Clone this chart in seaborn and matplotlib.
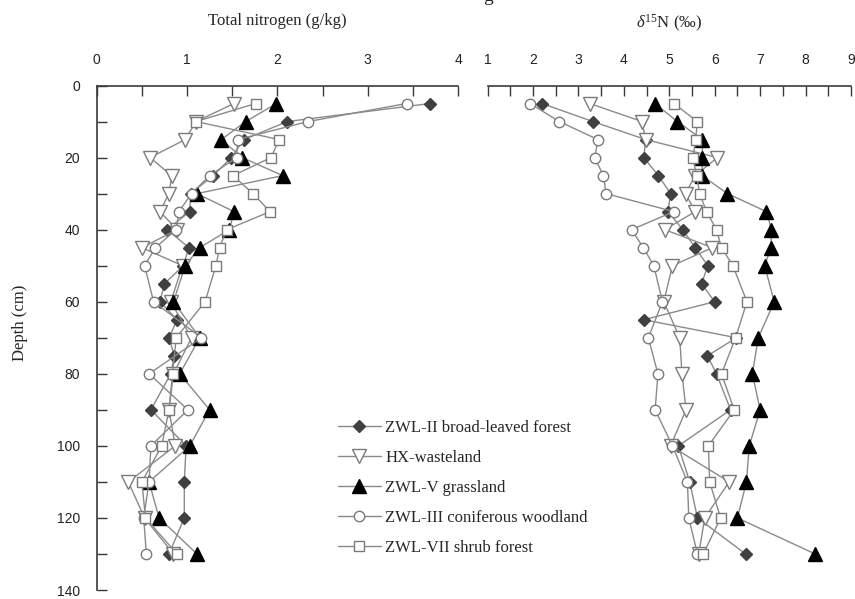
import matplotlib
matplotlib.use("Agg")
import matplotlib.pyplot as plt
from matplotlib.ticker import MultipleLocator
import seaborn as sns

# Sampling depths (cm); ZWL-II was sampled at every 5 cm down to 80 cm
depth_zwl2 = [5, 10, 15, 20, 25, 30, 35, 40, 45, 50, 55, 60, 65, 70, 75, 80, 90, 100, 110, 120, 130]
depth_other = [5, 10, 15, 20, 25, 30, 35, 40, 45, 50, 60, 70, 80, 90, 100, 110, 120, 130]

series_names = [
    "ZWL-II broad-leaved forest",
    "HX-wasteland",
    "ZWL-V grassland",
    "ZWL-III coniferous woodland",
    "ZWL-VII shrub forest",
]

# Total nitrogen (g/kg)
tn_zwl2 = [3.69, 2.11, 1.63, 1.49, 1.29, 1.04, 1.03, 0.78, 1.02, 0.96, 0.75, 0.70, 0.89, 0.80, 0.86, 0.82, 0.60, 0.99, 0.97, 0.97, 0.80]
tn_hx = [1.52, 1.10, 0.98, 0.59, 0.83, 0.80, 0.70, 0.89, 0.50, 0.95, 0.82, 1.05, 0.85, 0.80, 0.87, 0.35, 0.53, 0.85]
tn_zwl5 = [1.99, 1.65, 1.38, 1.61, 2.06, 1.11, 1.52, 1.47, 1.14, 0.98, 0.85, 1.14, 0.92, 1.25, 1.03, 0.58, 0.69, 1.11]
tn_zwl3 = [3.43, 2.34, 1.56, 1.55, 1.25, 1.05, 0.91, 0.88, 0.65, 0.53, 0.63, 1.16, 0.58, 1.01, 0.60, 0.58, 0.52, 0.55]
tn_zwl7 = [1.76, 1.10, 2.02, 1.93, 1.51, 1.73, 1.92, 1.44, 1.36, 1.32, 1.20, 0.88, 0.84, 0.80, 0.72, 0.50, 0.54, 0.89]

# delta 15N (per mil)
d15n_zwl2 = [2.20, 3.32, 4.48, 4.44, 4.76, 5.03, 4.97, 5.30, 5.57, 5.85, 5.71, 6.00, 4.44, 6.48, 5.84, 6.04, 6.35, 5.20, 5.45, 5.62, 6.68]
d15n_hx = [3.25, 4.40, 4.48, 6.06, 5.57, 5.36, 5.57, 4.90, 5.95, 5.07, 4.88, 5.23, 5.28, 5.37, 5.03, 6.32, 5.78, 5.65]
d15n_zwl5 = [4.68, 5.18, 5.73, 5.73, 5.72, 6.28, 7.14, 7.25, 7.24, 7.10, 7.31, 6.96, 6.83, 7.00, 6.76, 6.70, 6.50, 8.21]
d15n_zwl3 = [1.94, 2.58, 3.43, 3.36, 3.55, 3.61, 5.10, 4.17, 4.43, 4.66, 4.85, 4.54, 4.75, 4.69, 5.07, 5.40, 5.43, 5.62]
d15n_zwl7 = [5.10, 5.62, 5.58, 5.52, 5.60, 5.67, 5.82, 6.04, 6.15, 6.40, 6.71, 6.46, 6.15, 6.43, 5.86, 5.89, 6.13, 5.75]

tn_values = [tn_zwl2, tn_hx, tn_zwl5, tn_zwl3, tn_zwl7]
d15n_values = [d15n_zwl2, d15n_hx, d15n_zwl5, d15n_zwl3, d15n_zwl7]
depths = [depth_zwl2, depth_other, depth_other, depth_other, depth_other]

LINE = "#8a8a8a"
EDGE = "#7a7a7a"
styles = [
    dict(marker="D", markersize=6.5, markerfacecolor="#404040", markeredgecolor="#404040"),
    dict(marker="v", markersize=9.5, markerfacecolor="white", markeredgecolor=EDGE),
    dict(marker="^", markersize=9.5, markerfacecolor="black", markeredgecolor="black"),
    dict(marker="o", markersize=7.5, markerfacecolor="white", markeredgecolor=EDGE),
    dict(marker="s", markersize=7.0, markerfacecolor="white", markeredgecolor=EDGE),
]

sns.set_style("ticks")
plt.rcParams["font.family"] = ["Liberation Sans", "DejaVu Sans"]
plt.rcParams["mathtext.fontset"] = "custom"
plt.rcParams["mathtext.rm"] = "Liberation Serif"
plt.rcParams["mathtext.it"] = "Liberation Serif:italic"

SERIF = ["Liberation Serif", "DejaVu Serif"]
AX_COLOR = "#3a3a3a"

fig = plt.figure(figsize=(8.55, 5.99), dpi=100)
TOP_PX, BOT_PX = 85.5, 590.0
H = (BOT_PX - TOP_PX) / 599
B = (599 - BOT_PX) / 599
ax1 = fig.add_axes([96.7 / 855, B, 361.3 / 855, H])
ax2 = fig.add_axes([487.5 / 855, B, 363.5 / 855, H])

for vals, dvals, dep, name, st in zip(tn_values, d15n_values, depths, series_names, styles):
    for ax, x in ((ax1, vals), (ax2, dvals)):
        sns.lineplot(x=x, y=dep, ax=ax, orient="y", sort=False, estimator=None,
                     color=LINE, linewidth=1.0, markeredgewidth=1.0,
                     label=name, legend=False, **st)

for ax, lo, hi in ((ax1, 0, 4), (ax2, 1, 9)):
    ax.set_xlim(lo, hi)
    ax.set_ylim(140, 0)
    ax.xaxis.tick_top()
    ax.xaxis.set_major_locator(MultipleLocator(1))
    ax.xaxis.set_minor_locator(MultipleLocator(0.5))
    ax.tick_params(axis="x", which="both", direction="in", length=7, width=1.0,
                   color=AX_COLOR, top=True, bottom=False, labeltop=True,
                   labelbottom=False, pad=13, labelsize=10, labelcolor="#222222")
    for s in ("right", "bottom"):
        ax.spines[s].set_visible(False)
    ax.spines["top"].set_color(AX_COLOR)
    ax.spines["top"].set_linewidth(1.2)
    ax.set_xlabel("")
    ax.set_ylabel("")

ax1.yaxis.set_major_locator(MultipleLocator(20))
ax1.yaxis.set_minor_locator(MultipleLocator(10))
ax1.tick_params(axis="y", which="both", direction="in", length=7, width=1.0,
                color=AX_COLOR, left=True, right=False, pad=12, labelsize=10,
                labelcolor="#222222")
ax1.spines["left"].set_color(AX_COLOR)
ax1.spines["left"].set_linewidth(1.2)
ax1.set_ylabel("Depth (cm)", family=SERIF, fontsize=12)
ax1.yaxis.set_label_coords(-0.19, 0.53)

ax2.spines["left"].set_visible(False)
ax2.tick_params(axis="y", which="both", left=False, labelleft=False)

fig.text(277 / 855, 1 - 21 / 599, "Total nitrogen (g/kg)", family=SERIF,
         fontsize=12, ha="center", va="center")
fig.text(669 / 855, 1 - 23 / 599, r"$\delta^{15}$N (‰)", family=SERIF,
         fontsize=12, ha="center", va="center")
fig.text(488 / 855, 1 - 1 / 599, "g", family=SERIF, fontsize=14,
         ha="center", va="baseline")

handles = ax1.get_lines()[:5]
fig.legend(handles, series_names, loc="upper left",
           bbox_to_anchor=(331 / 855, 1 - 413 / 599), frameon=False,
           prop={"family": SERIF, "size": 12}, handlelength=2.6,
           handletextpad=0.25, labelspacing=0.84, borderaxespad=0)

fig.savefig("out.png", dpi=100)
